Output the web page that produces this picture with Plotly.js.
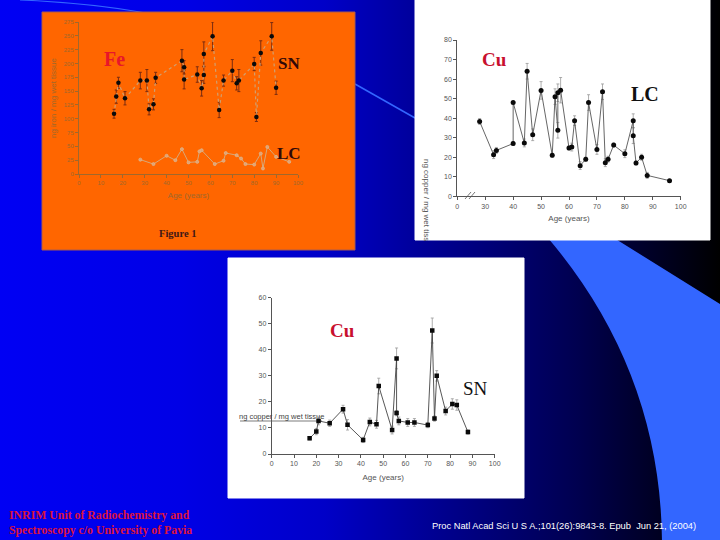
<!DOCTYPE html>
<html><head><meta charset="utf-8">
<script src="https://cdn.plot.ly/plotly-3.0.1.min.js"></script>
<style>
html,body{margin:0;padding:0;width:720px;height:540px;overflow:hidden;
background:linear-gradient(90deg,#0000f4 0%,#0000e6 25%,#0000c8 45%,#00008c 62%,#000050 80%,#000018 94%,#000000 100%);}
#chart{width:720px;height:540px;}
</style></head><body><div id="chart"></div>
<script>
// Fe panel
const feSnAge=[16,17,18,21,28,31,32,34,35,47,48,48,54,56,57,57,61,64,66,70,72,73,80,81,83,88,90];
const feSnVal=[109,140,165,137,169,169,117,126,174,205,193,171,180,155,179,217,249,116,169,187,164,169,199,103,219,249,156];
const feSnErr=[8,12,10,12,15,20,10,10,10,20,12,17,14,14,15,22,26,14,10,20,12,20,12,8,22,25,12];
const feLcAge=[28,34,40,44,47,50,54,55,56,62,66,67,72,74,76,80,83,84,86,90,96];
const feLcVal=[26,18,33,25,45,21,22,41,43,18,24,38,34,28,18,17,37,10,49,31,22];
const feTicks=[0,25,50,75,100,125,150,175,200,225,250,275];
const feAgeTicks=[0,10,20,30,40,50,60,70,80,90,100];
// Cu LC panel
const cuLcAge=[28,33,34,40,40,44,45,47,50,54,55,56,56,57,60,61,62,64,66,67,70,72,73,74,76,80,83,83,84,86,88,96];
const cuLcVal=[38.3,21.3,23.5,27,48,27.3,64,31.5,54.2,21,51,33.8,53,54.3,24.7,25.2,38.7,15.7,19,48,24,53.5,17.2,19,26.2,21.8,38.7,31,17,20,10.7,8];
const cuLcErr=[1.5,2,1.5,1,0.5,2,4,3,4.5,1,4,4,4.5,6.5,1,2,2.5,2,1,4,2.5,4,2,1.5,1,2,3.5,4,1,1.5,1.5,0.5];
const cuLcTickVals=[20,30,40,50,60,70,80,90,100];
const cuLcTickText=["0","30","40","50","60","70","80","90","100"];
const cuLcYTicks=[0,10,20,30,40,50,60,70,80];
// Cu SN panel
const cuSnAge=[17,20,21,26,32,34,41,44,47,48,54,56,56,57,61,64,70,72,73,74,78,81,83,88];
const cuSnVal=[6,8.6,12.7,11.8,17.2,11.2,5.4,12.3,11.4,26.1,9.2,36.7,15.7,12.7,12.1,12.1,11.1,47.4,13.6,30,16.5,19.2,18.8,8.4];
const cuSnErr=[0.6,1.2,1.5,1.2,1.5,2,1,1.5,1.5,3,1.5,4,1,1.5,1.5,1.5,1,4.8,1,2,1.5,2,2,0.8];
const cuSnYTicks=[0,10,20,30,40,50,60];
const cuSnAgeTicks=[0,10,20,30,40,50,60,70,80,90,100];

const W=720,H=540;
const px=x=>x/W, py=y=>1-y/H;
const sans='"Liberation Sans", Arial, sans-serif', serif='"Liberation Serif", serif';
const rect=(x0,y0,x1,y1,fill,line)=>({type:'rect',xref:'paper',yref:'paper',layer:'below',x0:px(x0),x1:px(x1),y0:py(y1),y1:py(y0),fillcolor:fill,line:{color:line||fill,width:1}});
const seg=(x0,y0,x1,y1,color,w)=>({type:'line',xref:'paper',yref:'paper',layer:'below',x0:px(x0),x1:px(x1),y0:py(y0),y1:py(y1),line:{color:color,width:w}});
const pp=(x,y)=>px(x).toFixed(4)+','+py(y).toFixed(4);
const bg=[
 {type:'path',xref:'paper',yref:'paper',layer:'below',fillcolor:'#3366ff',line:{width:0},
  path:'M'+pp(548,238)+' Q'+pp(660,370)+' '+pp(662,540)+' L'+pp(720,540)+' L'+pp(720,304)+' L'+pp(614,238)+' Z'},
 {type:'path',xref:'paper',yref:'paper',layer:'below',line:{color:'#3366ff',width:1.2},
  path:'M'+pp(20,0)+' Q'+pp(90,3)+' '+pp(146,13)},
 seg(355,84,415,118,'#3366ff',1.5),
 rect(42,12,355,250,'#ff6600','#a85a50'),
 rect(415,0,710,240,'#ffffff'),
 rect(228,258,524,498,'#ffffff'),
 seg(465,199,471,192,'#555',0.8), seg(469,199,475,192,'#555',0.8),
 seg(240,421,322,421,'#444',0.7)
];
const txt=(t,x,y,size,color,font,extra)=>Object.assign({text:t,xref:'paper',yref:'paper',x:px(x),y:py(y),showarrow:false,font:{size:size,color:color,family:font},xanchor:'center',yanchor:'middle'},extra||{});
const anns=[
 txt('<b>Fe</b>',114,59,20,'#e8162a',serif),
 txt('<b>SN</b>',288.5,64,17,'#300808',serif),
 txt('<b>LC</b>',288.5,153,17,'#300808',serif),
 txt('<b>Figure 1</b>',177,233,10.5,'#401818',serif),
 txt('<b>Cu</b>',494,59,19,'#c8102e',serif),
 txt('<b>LC</b>',645,94,20,'#101010',serif),
 txt('<b>Cu</b>',342,330,19,'#c8102e',serif),
 txt('SN',475,388,19,'#101010',serif),
 txt('ng copper / mg wet tiss',427,200,8,'#555',sans,{textangle:90}),
 txt('ng copper / mg wet tissue',281,416,7.5,'#444',sans),
 txt('<b>INRIM Unit of Radiochemistry and</b>',7,515,11.8,'#dc143c',serif,{xanchor:'left'}),
 txt('<b>Spectroscopy c/o University of Pavia</b>',7,530,11.8,'#dc143c',serif,{xanchor:'left'}),
 txt('Proc Natl Acad Sci U S A.;101(26):9843-8. Epub  Jun 21, (2004)',698,526,9.3,'#ffffff',sans,{xanchor:'right'})
];
function axis(dom,range,tickvals,ticktext,color,tfs,title,standoff){
 const a={domain:dom,range:range,tickmode:'array',tickvals:tickvals,showgrid:false,zeroline:false,showline:true,
  linecolor:color,linewidth:1,ticks:'outside',ticklen:3,tickcolor:color,tickwidth:1,
  tickfont:{size:tfs,color:color,family:sans},automargin:false};
 if(ticktext)a.ticktext=ticktext;
 if(title)a.title={text:title,font:{size:8,color:color,family:sans},standoff:standoff};
 return a;
}
const feCol='#a0682c', cuCol='#555555';
const layout={width:W,height:H,margin:{l:0,r:0,t:0,b:0},paper_bgcolor:'rgba(0,0,0,0)',plot_bgcolor:'rgba(0,0,0,0)',
 showlegend:false,shapes:bg,annotations:anns,
 xaxis:Object.assign(axis([px(79),px(298)],[0,100],feAgeTicks,null,feCol,6,'Age (years)',7),{anchor:'y'}),
 yaxis:Object.assign(axis([py(174),py(22)],[0,275],feTicks,null,feCol,6,'ng iron / mg wet tissue',5),{anchor:'x'}),
 xaxis2:Object.assign(axis([px(457.3),px(680.7)],[20,100],cuLcTickVals,cuLcTickText,cuCol,7,'Age (years)',6),{anchor:'y2'}),
 yaxis2:Object.assign(axis([py(196.3),py(40)],[0,80],cuLcYTicks,null,cuCol,7),{anchor:'x2'}),
 xaxis3:Object.assign(axis([px(271.7),px(494.7)],[0,100],cuSnAgeTicks,null,cuCol,7,'Age (years)',7),{anchor:'y3'}),
 yaxis3:Object.assign(axis([py(454),py(297.7)],[0,60],cuSnYTicks,null,cuCol,7),{anchor:'x3'})
};
const traces=[
 {x:feLcAge,y:feLcVal,xaxis:'x',yaxis:'y',mode:'lines+markers',line:{color:'#d8a878',width:1},marker:{size:3,color:'#e8a070',symbol:'circle',line:{color:'#d8b890',width:0.8}}},
 {x:feSnAge,y:feSnVal,xaxis:'x',yaxis:'y',mode:'lines+markers',line:{color:'#d0a070',width:1.2,dash:'dot'},marker:{size:4.5,color:'#0a0a0a'},
  error_y:{type:'data',array:feSnErr,visible:true,color:'#7a2c10',thickness:1,width:1.5}},
 {x:cuLcAge,y:cuLcVal,xaxis:'x2',yaxis:'y2',mode:'lines+markers',line:{color:'#555',width:0.9},marker:{size:5,color:'#0a0a0a'},
  error_y:{type:'data',array:cuLcErr,visible:true,color:'#999',thickness:0.8,width:1.5}},
 {x:cuSnAge,y:cuSnVal,xaxis:'x3',yaxis:'y3',mode:'lines+markers',line:{color:'#444',width:0.9},marker:{size:4.5,color:'#0a0a0a',symbol:'square'},
  error_y:{type:'data',array:cuSnErr,visible:true,color:'#999',thickness:0.8,width:1.5}}
];
Plotly.newPlot('chart',traces,layout,{displayModeBar:false,staticPlot:true});
</script></body></html>
